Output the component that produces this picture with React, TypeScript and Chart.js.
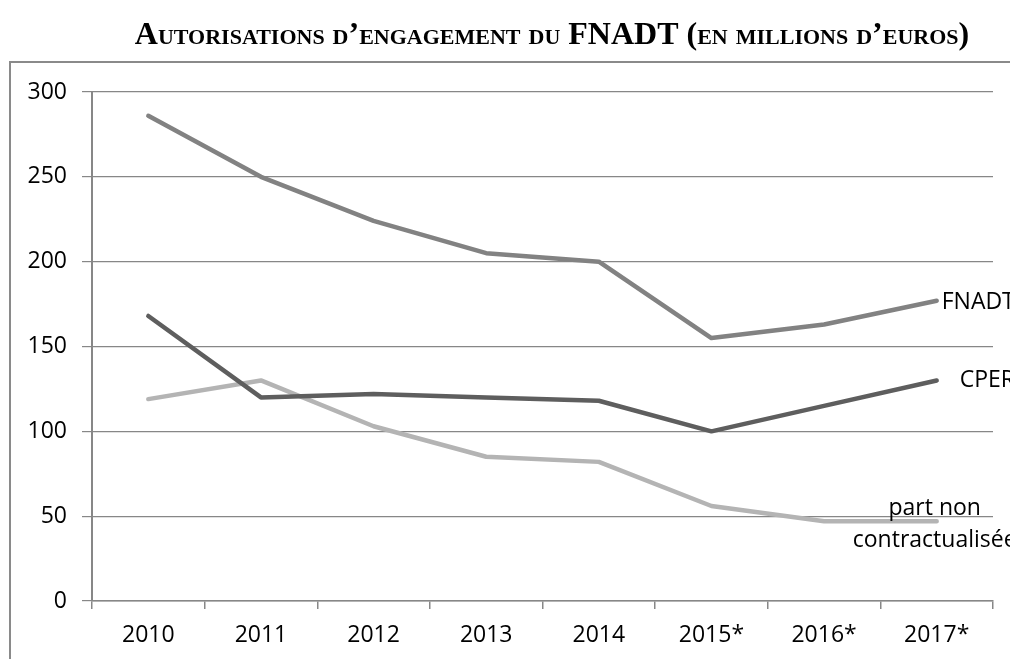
import React, { useEffect, useRef } from "react";
import { Chart, registerables } from "chart.js";

Chart.register(...registerables);

const categories = ["2010", "2011", "2012", "2013", "2014", "2015*", "2016*", "2017*"];
const fnadt = [286, 250, 224, 205, 200, 155, 163, 177];
const cper = [168, 120, 122, 120, 118, 100, 115, 130];
const partNonContractualisee = [119, 130, 103, 85, 82, 56, 47, 47];
const yTicks = [0, 50, 100, 150, 200, 250, 300];
const titleText = "Autorisations d\u2019engagement du FNADT (en millions d\u2019euros)";
const seriesNames = ["FNADT", "CPER", "part non|contractualisée"];

const FONT = "'Open Sans', 'Liberation Sans', sans-serif";

const decorPlugin = {
  id: "decor",
  beforeDraw(chart: any) {
    const ctx = chart.ctx;
    ctx.save();
    ctx.fillStyle = "#ffffff";
    ctx.fillRect(0, 0, chart.width, chart.height);
    // title
    ctx.fillStyle = "#000000";
    ctx.font = "small-caps bold 32px 'Liberation Serif', 'DejaVu Serif', serif";
    try { (ctx as any).fontVariantCaps = "small-caps"; } catch (e) {}
    ctx.textAlign = "center";
    ctx.textBaseline = "alphabetic";
    ctx.fillText(titleText, 552, 44);
    try { (ctx as any).fontVariantCaps = "normal"; } catch (e) {}
    // frame
    ctx.strokeStyle = "#8a8a8a";
    ctx.lineWidth = 2;
    ctx.beginPath();
    ctx.moveTo(10, chart.height + 5);
    ctx.lineTo(10, 62);
    ctx.lineTo(chart.width + 5, 62);
    ctx.stroke();
    ctx.restore();
  },
  afterDatasetsDraw(chart: any) {
    const ctx = chart.ctx;
    ctx.save();
    ctx.fillStyle = "#000000";
    ctx.font = `23px ${FONT}`;
    ctx.textBaseline = "middle";
    const last = (i: number) => {
      const meta = chart.getDatasetMeta(i);
      return meta.data[meta.data.length - 1];
    };
    const p0 = last(0);
    ctx.textAlign = "left";
    ctx.fillText(seriesNames[0], p0.x + 5, p0.y + 2);
    const p1 = last(1);
    ctx.fillText(seriesNames[1], p1.x + 23, p1.y);
    const p2 = last(2);
    const lines = seriesNames[2].split("|");
    ctx.textAlign = "center";
    ctx.fillText(lines[0], p2.x - 2, p2.y - 13);
    ctx.fillText(lines[1], p2.x - 2, p2.y + 19);
    ctx.restore();
  },
};

export default function App() {
  const ref = useRef<HTMLCanvasElement | null>(null);
  useEffect(() => {
    document.body.style.margin = "0";
    const canvas = ref.current;
    if (!canvas) return;
    const common = {
      fill: false,
      pointRadius: 0,
      pointHoverRadius: 0,
      borderWidth: 4.5,
      tension: 0,
      borderCapStyle: "round" as const,
      borderJoinStyle: "round" as const,
    };
    const chart = new Chart(canvas, {
      type: "line",
      data: {
        labels: categories,
        datasets: [
          { label: "FNADT", data: fnadt, borderColor: "#828282", ...common },
          { label: "CPER", data: cper, borderColor: "#5e5e5e", ...common },
          { label: "part non contractualisée", data: partNonContractualisee, borderColor: "#b4b4b4", ...common },
        ],
      },
      options: {
        responsive: false,
        animation: false,
        events: [],
        layout: { padding: { left: 0, right: 17, top: 92, bottom: 0 } },
        plugins: { legend: { display: false }, tooltip: { enabled: false }, title: { display: false } },
        scales: {
          x: {
            offset: true,
            grid: {
              offset: true,
              drawOnChartArea: false,
              drawTicks: true,
              tickLength: 8,
              color: "#878787",
              lineWidth: 1.5,
            },
            border: { display: true, color: "#878787", width: 1.5 },
            ticks: { color: "#000000", font: { family: FONT, size: 23 }, padding: 13, maxRotation: 0, autoSkip: false },
            afterFit(scale: any) { scale.height = 58; },
          },
          y: {
            min: 0,
            max: 300,
            afterBuildTicks(scale: any) { scale.ticks = yTicks.map((v) => ({ value: v })); },
            grid: { color: "#878787", lineWidth: 1.2, tickLength: 10, drawTicks: true },
            border: { display: true, color: "#878787", width: 2 },
            ticks: { color: "#000000", font: { family: FONT, size: 23 }, padding: 15 },
            afterFit(scale: any) { scale.width = 92; },
          },
        },
      },
      plugins: [decorPlugin],
    });
    return () => chart.destroy();
  }, []);
  return (
    <div style={{ width: 1010, height: 659 }}>
      <canvas ref={ref} width={1010} height={659} style={{ display: "block" }} />
    </div>
  );
}
